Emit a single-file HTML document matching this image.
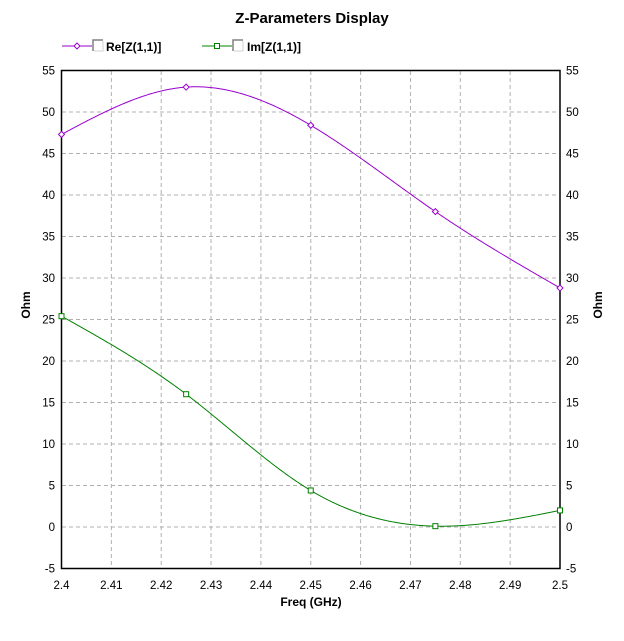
<!DOCTYPE html>
<html><head><meta charset="utf-8"><style>
body{margin:0;background:#fff;}
svg text{font-family:"Liberation Sans",Arial,sans-serif;}
</style></head><body>
<svg id="s" width="624" height="636" xmlns="http://www.w3.org/2000/svg">
<rect width="624" height="636" fill="#fff"/>
<text x="312" y="23" font-size="15" font-weight="bold" text-anchor="middle">Z-Parameters Display</text>
<line x1="62" y1="46" x2="92" y2="46" stroke="#9900cc"/>
<path d="M77 43 L80 46 L77 49 L74 46 Z" fill="#fff" stroke="#9900cc"/>
<path d="M93 51 V40 H103" fill="none" stroke="#808080" stroke-width="1.5"/>
<path d="M94 51 H103 V41" fill="none" stroke="#d0d0d0"/>
<text x="106" y="51" font-size="12" font-weight="bold">Re[Z(1,1)]</text>
<line x1="202" y1="46" x2="232" y2="46" stroke="#008000"/>
<rect x="214.5" y="43.5" width="5" height="5" fill="#fff" stroke="#008000"/>
<path d="M233 51 V40 H243" fill="none" stroke="#808080" stroke-width="1.5"/>
<path d="M234 51 H243 V41" fill="none" stroke="#d0d0d0"/>
<text x="247" y="51" font-size="12" font-weight="bold">Im[Z(1,1)]</text>
<g id="grid" stroke="#b0b0b0" stroke-dasharray="4,3"></g>
<rect x="61.5" y="70.5" width="498.5" height="498" fill="none" stroke="#000" stroke-width="1.5"/>
<g id="lab" font-size="11.5"></g>
<text x="311" y="606" font-size="12" font-weight="bold" text-anchor="middle">Freq (GHz)</text>
<text transform="translate(30,305) rotate(-90)" font-size="12" font-weight="bold" text-anchor="middle">Ohm</text>
<text transform="translate(602,305) rotate(-90)" font-size="12" font-weight="bold" text-anchor="middle">Ohm</text>
<g id="curves"></g>
</svg>
<script>
var NS="http://www.w3.org/2000/svg";
function X(f){return 61.5+(f-2.4)/0.1*498.5;}
function Y(v){return 527-v*8.3;}
function el(p,t,a,txt){var e=document.createElementNS(NS,t);for(var k in a)e.setAttribute(k,a[k]);if(txt!=null)e.textContent=txt;p.appendChild(e);return e;}
var g=document.getElementById('grid'),l=document.getElementById('lab');
for(var i=1;i<10;i++){var x=X(2.4+i*0.01);el(g,'line',{x1:x,y1:71,x2:x,y2:568});}
for(var v=0;v<55;v+=5){var y=Y(v);el(g,'line',{x1:62,y1:y,x2:559,y2:y});}
for(var v=-5;v<=55;v+=5){var y=Y(v)+4;el(l,'text',{x:55,y:y,'text-anchor':'end'},String(v));el(l,'text',{x:566,y:y},String(v));}
for(var i=0;i<=10;i++){var f=2.4+i*0.01;var s=(Math.round(f*100)/100).toString();el(l,'text',{x:X(f),y:589,'text-anchor':'middle'},s);}
function spline(ys){ // natural cubic spline, equal spacing h=1
 var n=ys.length,M=new Array(n).fill(0);
 var a=[],b=[],c=[],d=[];
 for(var i=1;i<n-1;i++){a.push(1);b.push(4);c.push(1);d.push(6*(ys[i+1]-2*ys[i]+ys[i-1]));}
 var m=d.length;for(var i=1;i<m;i++){var w=a[i]/b[i-1];b[i]-=w*c[i-1];d[i]-=w*d[i-1];}
 var sol=new Array(m);sol[m-1]=d[m-1]/b[m-1];for(var i=m-2;i>=0;i--)sol[i]=(d[i]-c[i]*sol[i+1])/b[i];
 for(var i=0;i<m;i++)M[i+1]=sol[i];
 return function(t){var i=Math.min(Math.floor(t),n-2),u=t-i;
  return M[i]*(1-u)*(1-u)*(1-u)/6+M[i+1]*u*u*u/6+(ys[i]-M[i]/6)*(1-u)+(ys[i+1]-M[i+1]/6)*u;};
}
function draw(ys,col,mk){var f=spline(ys),d='';
 for(var k=0;k<=400;k++){var t=k/100;var x=X(2.4+t*0.025),y=Y(f(t));d+=(k?' L':'M')+x.toFixed(2)+' '+y.toFixed(2);}
 el(c,'path',{d:d,fill:'none',stroke:col});
 ys.forEach(function(v,i){var x=X(2.4+i*0.025),y=Y(v);
  if(mk)el(c,'path',{d:'M'+x+' '+(y-3)+' l3 3 l-3 3 l-3 -3 z',fill:'#fff',stroke:col});
  else el(c,'rect',{x:x-2.5,y:y-2.5,width:5,height:5,fill:'#fff',stroke:col});});}
var c=document.getElementById('curves');
draw([47.3,53,48.4,38,28.8],'#9900cc',true);
draw([25.4,16,4.4,0.1,2],'#008000',false);
</script>
</body></html>
